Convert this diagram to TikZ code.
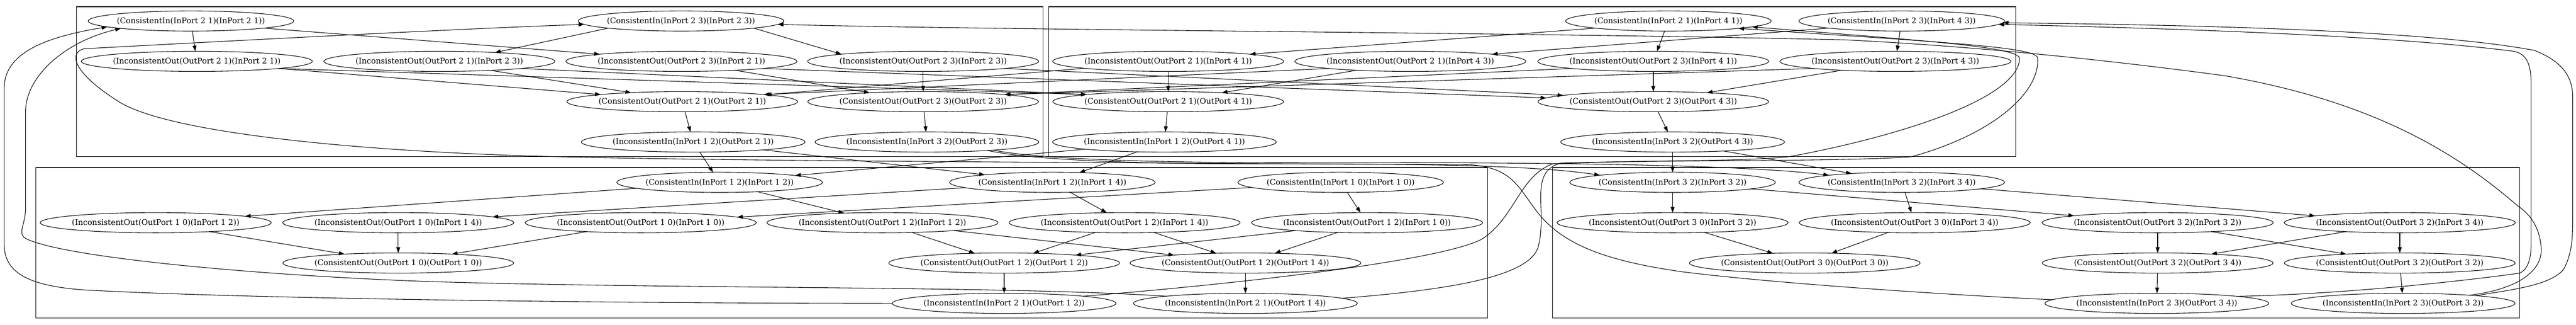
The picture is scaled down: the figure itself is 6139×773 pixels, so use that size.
\documentclass[tikz,border=0pt]{standalone}
\usepackage{fontspec}
\newfontfamily\gvfont{DejaVu Serif}
\usetikzlibrary{arrows.meta,shapes.geometric}
\newcommand{\gvlbl}[1]{\makebox[0pt]{#1}}
\begin{document}
\begin{tikzpicture}[x=0.75pt,y=-0.75pt,
  gv/.style={ellipse,draw,line width=1pt,inner sep=0pt,outer sep=0pt,minimum height=36pt,font=\gvfont\fontsize{14}{17}\selectfont},
  ci/.style={gv,minimum width=367.5pt},
  io/.style={gv,minimum width=413pt},
  co/.style={gv,minimum width=412.5pt},
  ii/.style={gv,minimum width=400pt},
  conn/.style={line width=1pt,line join=round,-{Triangle[length=10pt,width=7pt]}},
  cluster/.style={draw,line width=1pt}]
\useasboundingbox (0,0) rectangle (6139,773);
\fill[white] (0,0) rectangle (6139,773);
% clusters
\draw[cluster] (182,16) rectangle (2486,373);
\draw[cluster] (2499,16) rectangle (4804,373);
\draw[cluster] (85,399) rectangle (3545,757);
\draw[cluster] (3700,399) rectangle (6004,757);
% top-left cluster
\node[ci] (a1) at (455,50) {\gvlbl{(ConsistentIn(InPort 2 1)(InPort 2 1))}};
\node[ci] (a2) at (1623,50) {\gvlbl{(ConsistentIn(InPort 2 3)(InPort 2 3))}};
\node[io] (b1) at (469,146) {\gvlbl{(InconsistentOut(OutPort 2 1)(InPort 2 1))}};
\node[io] (b2) at (1047,146) {\gvlbl{(InconsistentOut(OutPort 2 1)(InPort 2 3))}};
\node[io] (b3) at (1624,146) {\gvlbl{(InconsistentOut(OutPort 2 3)(InPort 2 1))}};
\node[io] (b4) at (2200,146) {\gvlbl{(InconsistentOut(OutPort 2 3)(InPort 2 3))}};
\node[co] (c1) at (1626,242) {\gvlbl{(ConsistentOut(OutPort 2 1)(OutPort 2 1))}};
\node[co] (c2) at (2200,242) {\gvlbl{(ConsistentOut(OutPort 2 3)(OutPort 2 3))}};
\node[ii] (d1) at (1652,338) {\gvlbl{(InconsistentIn(InPort 1 2)(OutPort 2 1))}};
\node[ii] (d2) at (2209,338) {\gvlbl{(InconsistentIn(InPort 3 2)(OutPort 2 3))}};
% top-right cluster
\node[ci] (e1) at (3976,50) {\gvlbl{(ConsistentIn(InPort 2 1)(InPort 4 1))}};
\node[ci] (e2) at (4532,50) {\gvlbl{(ConsistentIn(InPort 2 3)(InPort 4 3))}};
\node[io] (f1) at (2784,146) {\gvlbl{(InconsistentOut(OutPort 2 1)(InPort 4 1))}};
\node[io] (f2) at (3361,146) {\gvlbl{(InconsistentOut(OutPort 2 1)(InPort 4 3))}};
\node[io] (f3) at (3940,146) {\gvlbl{(InconsistentOut(OutPort 2 3)(InPort 4 1))}};
\node[io] (f4) at (4517,146) {\gvlbl{(InconsistentOut(OutPort 2 3)(InPort 4 3))}};
\node[co] (g1) at (2784,242) {\gvlbl{(ConsistentOut(OutPort 2 1)(OutPort 4 1))}};
\node[co] (g2) at (3940,242) {\gvlbl{(ConsistentOut(OutPort 2 3)(OutPort 4 3))}};
\node[ii] (h1) at (2775,338) {\gvlbl{(InconsistentIn(InPort 1 2)(OutPort 4 1))}};
\node[ii] (h2) at (3986,338) {\gvlbl{(InconsistentIn(InPort 3 2)(OutPort 4 3))}};
% bottom-left cluster
\node[ci] (i1) at (1715,434) {\gvlbl{(ConsistentIn(InPort 1 2)(InPort 1 2))}};
\node[ci] (i2) at (2508,434) {\gvlbl{(ConsistentIn(InPort 1 2)(InPort 1 4))}};
\node[ci] (i3) at (3195,434) {\gvlbl{(ConsistentIn(InPort 1 0)(InPort 1 0))}};
\node[io] (j1) at (371,530) {\gvlbl{(InconsistentOut(OutPort 1 0)(InPort 1 2))}};
\node[io] (j2) at (949,530) {\gvlbl{(InconsistentOut(OutPort 1 0)(InPort 1 4))}};
\node[io] (j3) at (1527,530) {\gvlbl{(InconsistentOut(OutPort 1 0)(InPort 1 0))}};
\node[io] (j4) at (2103,530) {\gvlbl{(InconsistentOut(OutPort 1 2)(InPort 1 2))}};
\node[io] (j5) at (2680,530) {\gvlbl{(InconsistentOut(OutPort 1 2)(InPort 1 4))}};
\node[io] (j6) at (3258,530) {\gvlbl{(InconsistentOut(OutPort 1 2)(InPort 1 0))}};
\node[co] (k1) at (949,626) {\gvlbl{(ConsistentOut(OutPort 1 0)(OutPort 1 0))}};
\node[co] (k2) at (2393,626) {\gvlbl{(ConsistentOut(OutPort 1 2)(OutPort 1 2))}};
\node[co] (k3) at (2968,626) {\gvlbl{(ConsistentOut(OutPort 1 2)(OutPort 1 4))}};
\node[ii] (l1) at (2393,722) {\gvlbl{(InconsistentIn(InPort 2 1)(OutPort 1 2))}};
\node[ii] (l2) at (2968,722) {\gvlbl{(InconsistentIn(InPort 2 1)(OutPort 1 4))}};
% bottom-right cluster
\node[ci] (m1) at (3986,434) {\gvlbl{(ConsistentIn(InPort 3 2)(InPort 3 2))}};
\node[ci] (m2) at (4532,434) {\gvlbl{(ConsistentIn(InPort 3 2)(InPort 3 4))}};
\node[io] (n1) at (3986,530) {\gvlbl{(InconsistentOut(OutPort 3 0)(InPort 3 2))}};
\node[io] (n2) at (4563,530) {\gvlbl{(InconsistentOut(OutPort 3 0)(InPort 3 4))}};
\node[io] (n3) at (5142,530) {\gvlbl{(InconsistentOut(OutPort 3 2)(InPort 3 2))}};
\node[io] (n4) at (5719,530) {\gvlbl{(InconsistentOut(OutPort 3 2)(InPort 3 4))}};
\node[co] (o1) at (4301,626) {\gvlbl{(ConsistentOut(OutPort 3 0)(OutPort 3 0))}};
\node[co] (o2) at (5142,626) {\gvlbl{(ConsistentOut(OutPort 3 2)(OutPort 3 4))}};
\node[co] (o3) at (5719,626) {\gvlbl{(ConsistentOut(OutPort 3 2)(OutPort 3 2))}};
\node[ii] (p1) at (5140,722) {\gvlbl{(InconsistentIn(InPort 2 3)(OutPort 3 4))}};
\node[ii] (p2) at (5727,722) {\gvlbl{(InconsistentIn(InPort 2 3)(OutPort 3 2))}};
% ---- edges: top clusters
\draw[conn] (a1) -- (b1);
\draw[conn] (a1.south east) -- (b3.north west);
\draw[conn] (a2.south west) -- (b2.9);
\draw[conn] (a2.south east) -- (b4.north west);
\draw[conn] (e1.south west) -- (f1.north east);
\draw[conn] (e1) -- (f3);
\draw[conn] (e2.south west) -- (f2.north east);
\draw[conn] (e2) -- (f4);
\draw[conn] (b1.south east) -- (c1.north west);
\draw[conn] (b1.south east) -- (g1.north west);
\draw[conn] (b2.-10) -- (c1.170);
\draw[conn] (b2.south east) -- (g1.north west);
\draw[conn] (b3) -- (c2);
\draw[conn] (b3.south east) -- (g2.178);
\draw[conn] (b4) -- (c2);
\draw[conn] (b4.south east) -- (g2.176);
\draw[conn] (f1) -- (c1);
\draw[conn] (f1) -- (g1);
\draw[conn] (f2.south west) -- (c1.north east);
\draw[conn] (f2) -- (g1);
\draw[conn] (f3.south west) -- (c2.north east);
\draw[conn] (f3) -- (g2);
\draw[conn] (f4.south west) -- (c2.north east);
\draw[conn] (f4) -- (g2);
\draw[conn] (c1) -- (d1);
\draw[conn] (c2) -- (d2);
\draw[conn] (g1) -- (h1);
\draw[conn] (g2) -- (h2);
% ---- top to bottom
\draw[conn] (d1) -- (i1);
\draw[conn] (d1) -- (i2);
\draw[conn] (h1) -- (i1);
\draw[conn] (h1) -- (i2);
\draw[conn] (d2.-8) .. controls (2450,378) and (2650,390) .. (3000,390) .. controls (3350,390) and (3650,392) .. (m1.north west);
\draw[conn] (d2.-7) .. controls (2460,376) and (2700,388) .. (3100,387) .. controls (3700,386) and (4150,392) .. (m2.north west);
\draw[conn] (h2) -- (m1);
\draw[conn] (h2) -- (m2);
% ---- bottom-left cluster
\draw[conn] (i1) -- (j1);
\draw[conn] (i1) -- (j4);
\draw[conn] (i2) -- (j2);
\draw[conn] (i2) -- (j5);
\draw[conn] (i3) -- (j3);
\draw[conn] (i3) -- (j6);
\draw[conn] (j1) -- (k1);
\draw[conn] (j2) -- (k1);
\draw[conn] (j3) -- (k1);
\draw[conn] (j4) -- (k2);
\draw[conn] (j4) -- (k3);
\draw[conn] (j5) -- (k2);
\draw[conn] (j5) -- (k3);
\draw[conn] (j6) -- (k2);
\draw[conn] (j6) -- (k3);
\draw[conn] (k2) -- (l1);
\draw[conn] (k3) -- (l2);
% ---- bottom-right cluster
\draw[conn] (m1) -- (n1);
\draw[conn] (m1) -- (n3);
\draw[conn] (m2) -- (n2);
\draw[conn] (m2) -- (n4);
\draw[conn] (n1) -- (o1);
\draw[conn] (n2) -- (o1);
\draw[conn] (n3) -- (o2);
\draw[conn] (n3) -- (o3);
\draw[conn] (n4) -- (o2);
\draw[conn] (n4) -- (o3);
\draw[conn] (o2) -- (p1);
\draw[conn] (o3) -- (p2);
% ---- bottom to top (long loops)
\draw[conn] (l1.west) .. controls (1500,722) and (600,712) .. (200,690) .. controls (60,680) and (12,645) .. (10,585) -- (10,210) .. controls (10,125) and (110,88) .. (a1.184);
\draw[conn] (l2.north west) .. controls (2400,680) and (1600,688) .. (1020,670) .. controls (600,655) and (150,612) .. (62,568) .. controls (40,556) and (61,535) .. (61,495) -- (61,265) .. controls (61,185) and (150,100) .. (a1.186.5);
\draw[conn] (l1.north east) .. controls (2900,680) and (3420,625) .. (3530,570) .. controls (3610,520) and (3620,420) .. (3700,390) .. controls (3950,380) and (4150,385) .. (4263,373) .. controls (4500,330) and (4808,240) .. (4813,140) .. controls (4815,112) and (4600,98) .. (e1.-4);
\draw[conn] (l2.3) .. controls (3450,690) and (3640,660) .. (3665,590) .. controls (3690,500) and (3640,410) .. (3720,388) .. controls (4000,380) and (4400,385) .. (4555,373) .. controls (4750,320) and (4862,220) .. (4856,138) .. controls (4852,112) and (4650,102) .. (e1.-6);
\draw[conn] (p1.178) .. controls (4700,705) and (4250,677) .. (4010,647) .. controls (3820,620) and (3720,580) .. (3660,500) .. controls (3615,440) and (3600,398) .. (3500,392) .. controls (2800,388) and (1800,384) .. (1377,374) .. controls (900,365) and (400,320) .. (280,240) .. controls (170,170) and (165,125) .. (200,116) .. controls (500,100) and (1100,68) .. (a2.182);
\draw[conn] (p2.7) .. controls (5990,690) and (6060,650) .. (6056,590) .. controls (6052,540) and (6030,510) .. (6000,490) .. controls (5850,360) and (5650,240) .. (5300,180) .. controls (5000,140) and (4700,110) .. (4400,95) .. controls (3700,78) and (2400,72) .. (a2.-2);
\draw[conn] (p1.5) .. controls (5600,700) and (5900,665) .. (6005,650) .. controls (6025,640) and (6032,615) .. (6032,580) -- (6032,200) .. controls (6032,150) and (6020,128) .. (5990,122) .. controls (5700,85) and (5200,68) .. (e2.-2);
\draw[conn] (p2.6) .. controls (5980,690) and (6080,680) .. (6110,640) .. controls (6131,600) and (6131,560) .. (6131,520) -- (6131,230) .. controls (6131,170) and (6090,140) .. (6040,120) .. controls (5800,75) and (5300,60) .. (e2.-1);
\end{tikzpicture}
\end{document}
